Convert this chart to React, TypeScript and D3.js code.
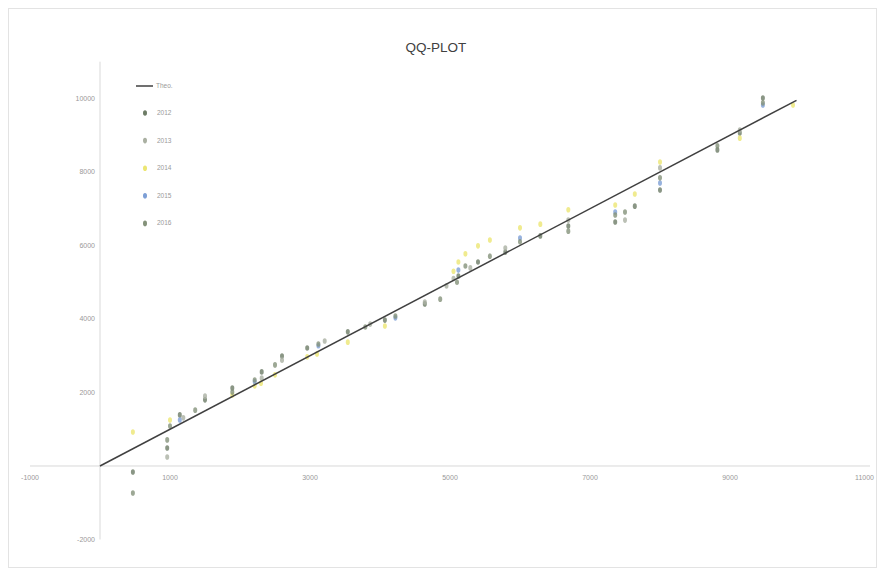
import * as d3 from "d3"

// QQ plot: theoretical quantile vs sample quantile, five samples
const seriesNames = ["2012", "2013", "2014", "2015", "2016"]
const seriesColors = ["#6d7c66", "#aab0a2", "#ece673", "#7d9fd6", "#84927a"]

const s2012: [number, number][] = [
  [470, -165], [960, 490], [1140, 1390], [1500, 1800], [1890, 2120], [2310, 2560],
  [2600, 2990], [2960, 3210], [3540, 3650], [4070, 3970], [4640, 4410], [5120, 5170],
  [5400, 5550], [5790, 5820], [6290, 6260], [6690, 6530], [7360, 6640], [7640, 7070],
  [8000, 7510], [8820, 8600], [9140, 9060], [9470, 10010],
]
const s2013: [number, number][] = [
  [960, 245], [1190, 1310], [1500, 1900], [2310, 2390], [2600, 2880], [3210, 3400],
  [3860, 3860], [4640, 4460], [5290, 5390], [5790, 5930], [6690, 6690], [7500, 6690],
  [8000, 8110], [9140, 9140], [5050, 5100], [4950, 4900],
]
const s2014: [number, number][] = [
  [470, 925], [1000, 1250], [1890, 1930], [2210, 2180], [2500, 2480], [2960, 2970],
  [3540, 3370], [4070, 3810], [5120, 5550], [5220, 5770], [5400, 5990], [5570, 6150],
  [6000, 6480], [6290, 6580], [6690, 6970], [7360, 7100], [7640, 7400], [8000, 8270],
  [9140, 8920], [9900, 9820], [5050, 5300], [3100, 3050], [2300, 2250],
]
const s2015: [number, number][] = [
  [1140, 1250], [2210, 2290], [3120, 3270], [4220, 4030], [5120, 5330], [6000, 6200],
  [7360, 6910], [8000, 7700], [9470, 9820],
]
const s2016: [number, number][] = [
  [470, -735], [960, 710], [1000, 1090], [1360, 1520], [1890, 2010], [2210, 2340],
  [2500, 2750], [3120, 3320], [3790, 3780], [4220, 4080], [4860, 4540], [5220, 5440],
  [5570, 5710], [6000, 6100], [6690, 6390], [7360, 6830], [7500, 6910], [8000, 7840],
  [8820, 8710], [9470, 9880], [5100, 5000],
]
const allSeries = [s2012, s2013, s2014, s2015, s2016]

const theoryLine: [number, number][] = [[0, 0], [9950, 9950]]
const xTicks = [-1000, 1000, 3000, 5000, 7000, 9000, 11000]
const yTicks = [-2000, 0, 2000, 4000, 6000, 8000, 10000]

const W = 877
const H = 568
const font = "'Liberation Sans', Arial, sans-serif"

export default function App() {
  const x = d3.scaleLinear().domain([-1000, 11000]).range([30, 870])
  const y = d3.scaleLinear().domain([-2000, 11000]).range([539.5, 61.7])
  const line = d3.line<[number, number]>().x((d) => x(d[0])).y((d) => y(d[1]))

  const x0 = x(0)
  const y0 = y(0)

  return (
    <svg width={W} height={H} style={{ position: "absolute", left: 0, top: 0 }}>
      <rect x={0} y={0} width={W} height={H} fill="#fff" />
      <rect x={8.5} y={8.5} width={W - 9} height={H - 9} fill="#fff" stroke="#e3e3e3" />

      <text x={436} y={52} textAnchor="middle" fontFamily={font} fontSize={13.5} fill="#404040">
        QQ-PLOT
      </text>

      {/* axes */}
      <line x1={x(-1000)} x2={x(11000)} y1={y0} y2={y0} stroke="#d9d9d9" strokeWidth={1} />
      <line x1={x0} x2={x0} y1={y(-2000)} y2={y(11000)} stroke="#d9d9d9" strokeWidth={1} />

      {xTicks.map((t, i) => {
        // last label would run past the chart edge, so pin it to the right
        const last = i === xTicks.length - 1
        return (
          <text
            key={"x" + t}
            x={last ? W - 3 : x(t)}
            y={y0 + 14}
            textAnchor={last ? "end" : "middle"}
            fontFamily={font}
            fontSize={7}
            fill="#999"
          >
            {t}
          </text>
        )
      })}
      {yTicks.filter((t) => t !== 0).map((t) => (
        <text key={"y" + t} x={x0 - 5} y={y(t) + 2.5} textAnchor="end" fontFamily={font} fontSize={7} fill="#999">
          {t}
        </text>
      ))}

      {/* points */}
      {allSeries.map((s, i) => (
        <g key={seriesNames[i]} fill={seriesColors[i]} fillOpacity={0.8}>
          {s.map((d, j) => (
            <ellipse key={j} cx={x(d[0])} cy={y(d[1])} rx={2} ry={2.8} />
          ))}
        </g>
      ))}

      {/* theoretical line */}
      <path d={line(theoryLine) || ""} fill="none" stroke="#404040" strokeWidth={1.5} />

      {/* legend */}
      <g fontFamily={font} fontSize={6.5} fill="#999">
        <line x1={136} x2={153} y1={86} y2={86} stroke="#404040" strokeWidth={1.5} />
        <text x={156} y={88}>Theo.</text>
        {seriesNames.map((n, i) => (
          <g key={n} transform={`translate(0,${113 + i * 27.6})`}>
            <ellipse cx={145} cy={0} rx={2} ry={2.8} fill={seriesColors[i]} />
            <text x={157} y={2}>{n}</text>
          </g>
        ))}
      </g>
    </svg>
  )
}
